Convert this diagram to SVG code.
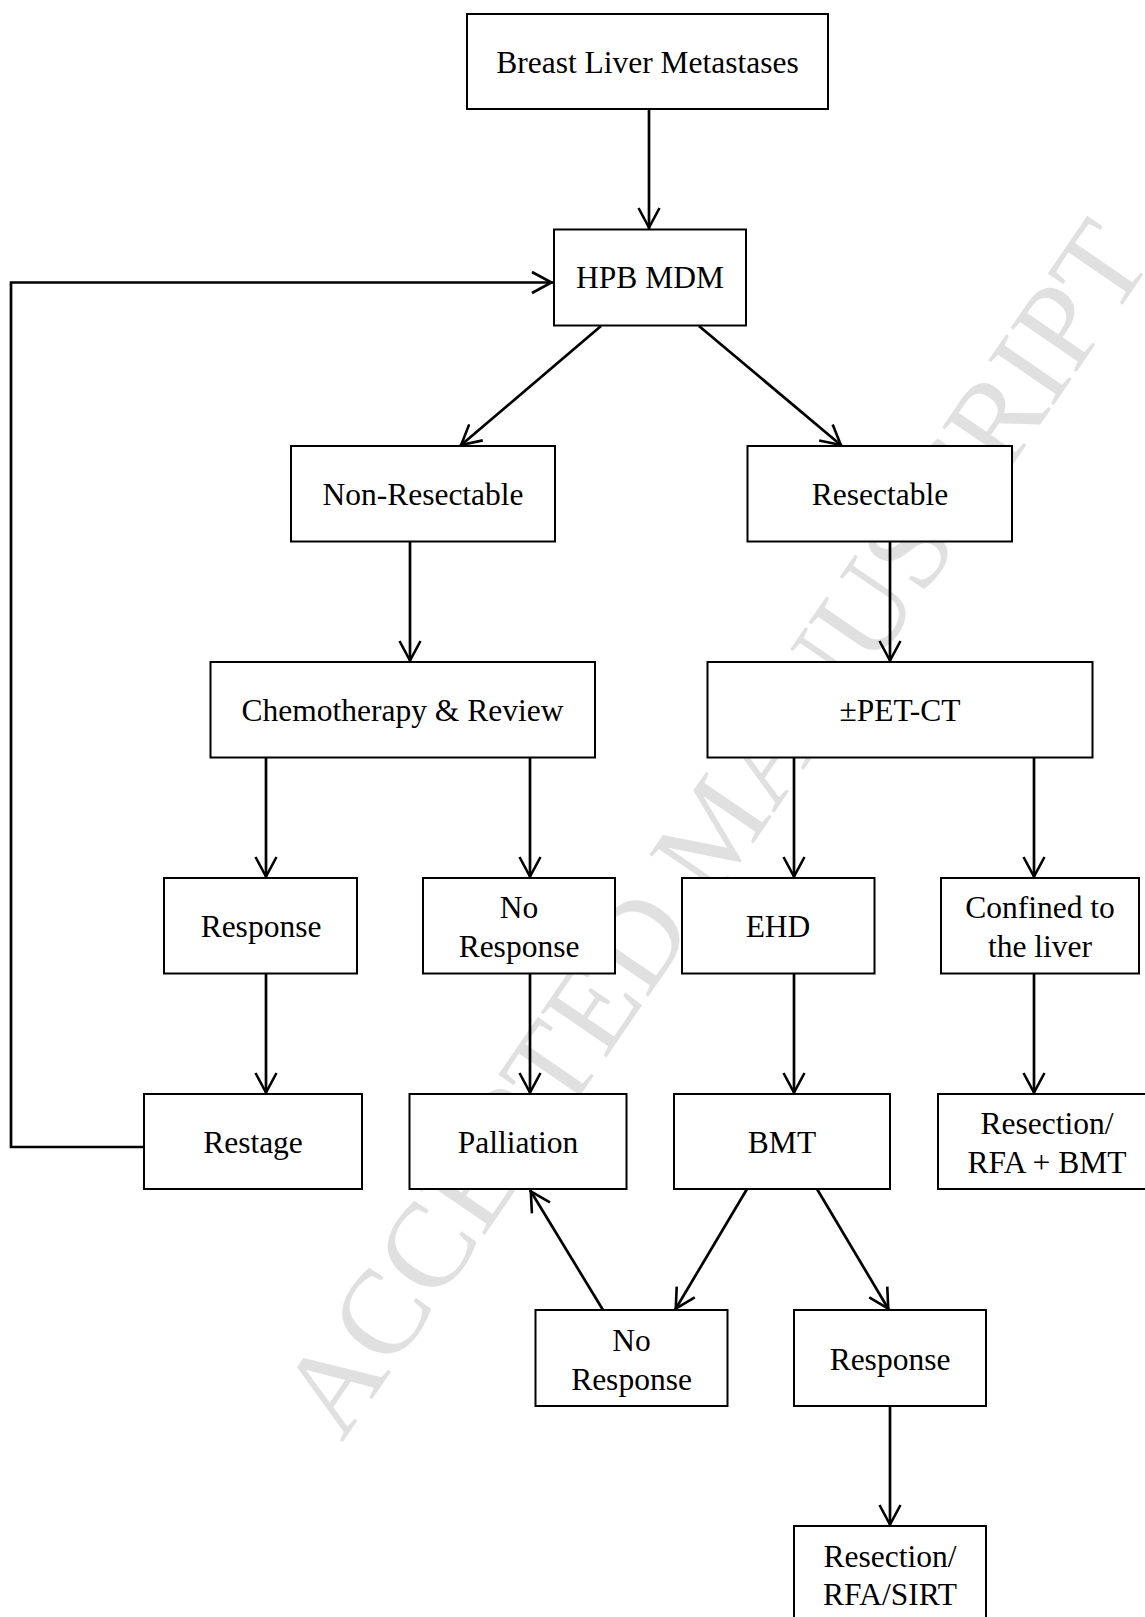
<svg xmlns="http://www.w3.org/2000/svg" width="1145" height="1617" viewBox="0 0 1145 1617">
<style>
.box{fill:#fff;stroke:#000;stroke-width:2}
.lbl{font-family:"Liberation Serif","Times New Roman",serif;font-size:31.5px;fill:#000;text-anchor:middle}
.con{fill:none;stroke:#000;stroke-width:2.7;marker-end:url(#ah)}
.loop{fill:none;stroke:#000;stroke-width:2.7;stroke-linejoin:miter;marker-end:url(#ah)}
.wm{font-family:"Liberation Serif","Times New Roman",serif;font-size:121px;fill:#e0e0e0}
</style>
<defs>
<marker id="ah" markerUnits="userSpaceOnUse" markerWidth="40" markerHeight="40" viewBox="-25 -20 40 40" refX="1.5" refY="0" orient="auto" overflow="visible">
<path d="M-19.5,-10.5 L0,0 L-19.5,10.5" fill="none" stroke="#000" stroke-width="2.6"/>
</marker>
<path id="wmpath" d="M342,1443 L1169,237"/>
</defs>
<rect width="1145" height="1617" fill="#fff"/>
<g id="watermark"><text class="wm"><textPath href="#wmpath">ACCEPTED MANUSCRIPT</textPath></text></g>
<g id="connectors">
<path class="con" d="M649,109 L649,229"/>
<path class="con" d="M601,326 L460,446"/>
<path class="con" d="M699,326 L842,446"/>
<path class="con" d="M410,541.5 L410,662"/>
<path class="con" d="M890,541.5 L890,662"/>
<path class="con" d="M266,757.5 L266,878"/>
<path class="con" d="M530,757.5 L530,878"/>
<path class="con" d="M794,757.5 L794,878"/>
<path class="con" d="M1034,757.5 L1034,878"/>
<path class="con" d="M266,973.5 L266,1094"/>
<path class="con" d="M530,973.5 L530,1094"/>
<path class="con" d="M794,973.5 L794,1094"/>
<path class="con" d="M1034,973.5 L1034,1094"/>
<path class="loop" d="M144,1147 L11,1147 L11,282.5 L553,282.5"/>
<path class="con" d="M747,1189 L675,1310"/>
<path class="con" d="M817,1189 L889,1310"/>
<path class="con" d="M603,1310 L530,1190"/>
<path class="con" d="M890,1406 L890,1526"/>
</g>
<g id="n-breast"><rect class="box" x="467" y="14" width="361" height="95"/><text class="lbl" x="647.5" y="73">Breast Liver Metastases</text></g>
<g id="n-hpb"><rect class="box" x="554" y="229.5" width="192" height="96"/><text class="lbl" x="650" y="288">HPB MDM</text></g>
<g id="n-nonres"><rect class="box" x="291" y="446" width="264" height="95.5"/><text class="lbl" x="423" y="505">Non-Resectable</text></g>
<g id="n-res"><rect class="box" x="747.5" y="446" width="264.5" height="95.5"/><text class="lbl" x="880" y="505">Resectable</text></g>
<g id="n-chemo"><rect class="box" x="210.5" y="662" width="384.5" height="95.5"/><text class="lbl" x="402.5" y="721">Chemotherapy &amp; Review</text></g>
<g id="n-pet"><rect class="box" x="707.5" y="662" width="385" height="95.5"/><text class="lbl" x="900" y="721">±PET-CT</text></g>
<g id="n-resp1"><rect class="box" x="164" y="878" width="193" height="95.5"/><text class="lbl" x="261" y="937">Response</text></g>
<g id="n-noresp1"><rect class="box" x="423" y="878" width="192" height="95.5"/><text class="lbl" x="519" y="918">No</text><text class="lbl" x="519" y="957">Response</text></g>
<g id="n-ehd"><rect class="box" x="682" y="878" width="192.5" height="95.5"/><text class="lbl" x="778" y="937">EHD</text></g>
<g id="n-confined"><rect class="box" x="941" y="878" width="198" height="95.5"/><text class="lbl" x="1040" y="918">Confined to</text><text class="lbl" x="1040" y="957">the liver</text></g>
<g id="n-restage"><rect class="box" x="144" y="1094" width="218" height="95"/><text class="lbl" x="253" y="1153">Restage</text></g>
<g id="n-palliation"><rect class="box" x="409.5" y="1094" width="217" height="95"/><text class="lbl" x="518" y="1153">Palliation</text></g>
<g id="n-bmt"><rect class="box" x="674" y="1094" width="216" height="95"/><text class="lbl" x="782" y="1153">BMT</text></g>
<g id="n-rfabmt"><rect class="box" x="938" y="1094" width="218" height="95"/><text class="lbl" x="1047" y="1134">Resection/</text><text class="lbl" x="1047" y="1173">RFA + BMT</text></g>
<g id="n-noresp2"><rect class="box" x="535.5" y="1310" width="192" height="96"/><text class="lbl" x="631.5" y="1351">No</text><text class="lbl" x="631.5" y="1389.5">Response</text></g>
<g id="n-resp2"><rect class="box" x="794" y="1310" width="192" height="96"/><text class="lbl" x="890" y="1370">Response</text></g>
<g id="n-sirt"><rect class="box" x="794" y="1526" width="192" height="100"/><text class="lbl" x="890" y="1567">Resection/</text><text class="lbl" x="890" y="1605">RFA/SIRT</text></g>
</svg>
